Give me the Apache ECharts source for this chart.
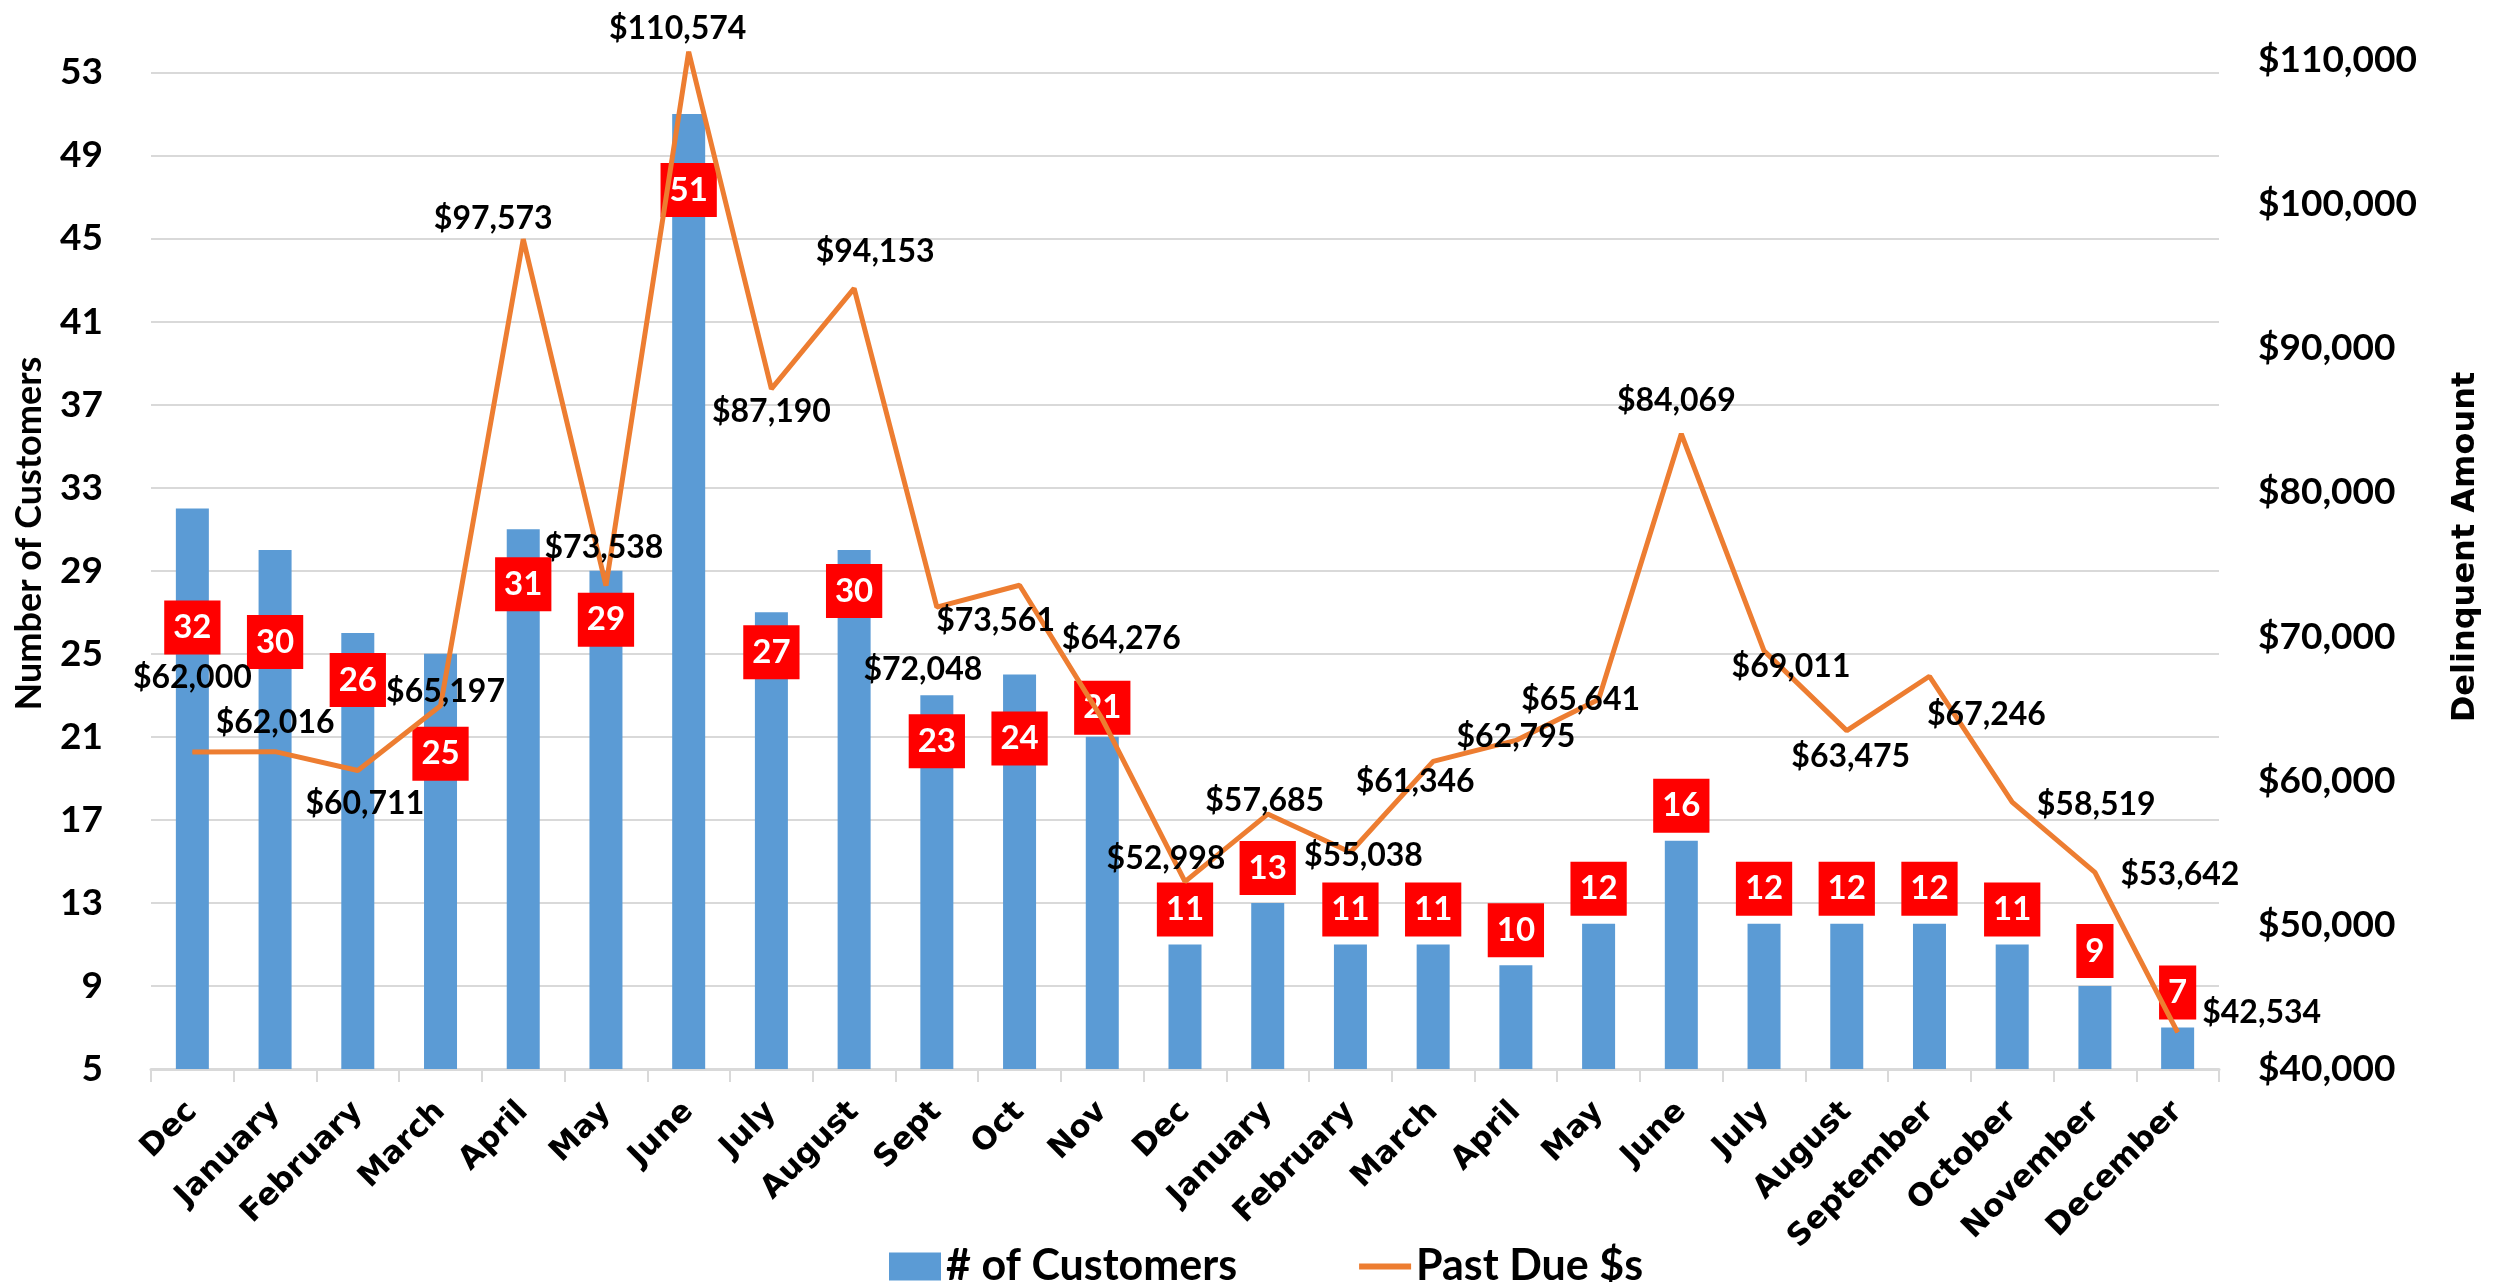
<!DOCTYPE html>
<html>
<head>
<meta charset="utf-8">
<script src="https://cdn.jsdelivr.net/npm/echarts@6/dist/echarts.min.js"></script>
<style>html,body{margin:0;padding:0;background:#fff}#c{width:2509px;height:1282px}</style>
</head>
<body>
<div id="c"></div>
<script>
const categories = ['Dec','January','February','March','April','May','June','July','August','Sept','Oct','Nov','Dec','January','February','March','April','May','June','July','August','September','October','November','December'];
const customers = [32,30,26,25,31,29,51,27,30,23,24,21,11,13,11,11,10,12,16,12,12,12,11,9,7];
const pastDue = [62000,62016,60711,65197,97573,73538,110574,87190,94153,72048,73561,64276,52998,57685,55038,61346,62795,65641,84069,69011,63475,67246,58519,53642,42534];
const leftTicks = {min: 5, max: 53.6, step: 4};
const rightTicks = {min: 40000, max: 110000, step: 10000};

// label placement tweaks (pixels), kept separate from the data
const barLabelDy = [154,127,82,135,90,84,111,75,76,81,99,6,0,0,0,0,0,0,0,0,0,0,0,0,0];
const lineLabelOffset = [[0,-74],[0,-29],[7,33],[5,-14],[-30,-20],[-2,-38],[-11,-23],[0,23],[21,-37],[-14,63],[-24,35],[19,-80],[-19,-23],[-3,-13],[13,3],[-18,20],[0,-4],[-18,0],[-5,-33],[27,16],[4,26],[57,38],[84,3],[85,2],[84,-20]];

const money = v => '$' + Math.round(v).toLocaleString('en-US');
const NUM = 'Lato, "Open Sans", sans-serif';

const chart = echarts.init(document.getElementById('c'));
chart.setOption({
  animation: false,
  backgroundColor: '#ffffff',
  grid: {left: 151, right: 290, top: 60, bottom: 213},
  legend: {
    left: 884, top: 1240,
    itemWidth: 52, itemHeight: 28, itemGap: 122,
    textStyle: {fontFamily: NUM, fontWeight: 'bold', fontSize: 43, color: '#000'},
    data: [
      {name: '# of Customers', icon: 'rect'},
      {name: 'Past Due $s', icon: 'path://M0,0H54V6H0Z', itemStyle: {color: '#ed7d31'}}
    ]
  },
  xAxis: {
    type: 'category', data: categories,
    axisLine: {lineStyle: {color: '#d9d9d9', width: 3}},
    axisTick: {show: true, length: 13, lineStyle: {color: '#d9d9d9', width: 2}},
    axisLabel: {interval: 0, rotate: 45, margin: 38, color: '#000', fontFamily: '"DejaVu Sans", sans-serif', fontWeight: 'bold', fontSize: 31}
  },
  yAxis: [{
    type: 'value', min: leftTicks.min, max: leftTicks.max, interval: leftTicks.step,
    name: 'Number of Customers', nameLocation: 'middle', nameRotate: 90, nameGap: 104,
    nameTextStyle: {fontFamily: NUM, fontWeight: 'bold', fontSize: 36, color: '#000', padding: [0,0,0,62]},
    axisLine: {show: false}, axisTick: {show: false},
    axisLabel: {showMaxLabel: false, margin: 48, color: '#000', fontFamily: NUM, fontWeight: 'bold', fontSize: 37},
    splitLine: {show: true, showMaxLine: false, lineStyle: {color: '#d9d9d9', width: 2}}
  }, {
    type: 'value', min: rightTicks.min, max: rightTicks.max, interval: rightTicks.step,
    name: 'Delinquent Amount', nameLocation: 'middle', nameRotate: 90, nameGap: 231,
    nameTextStyle: {fontFamily: '"DejaVu Sans", sans-serif', fontWeight: 'bold', fontSize: 32, color: '#000', padding: [0,0,0,35]},
    axisLine: {show: false}, axisTick: {show: false},
    axisLabel: {margin: 39, color: '#000', fontFamily: NUM, fontWeight: 'bold', fontSize: 37, formatter: money},
    splitLine: {show: false}
  }],
  series: [{
    name: '# of Customers', type: 'bar', yAxisIndex: 0, barWidth: 33,
    itemStyle: {color: '#5b9bd5'},
    data: customers.map((v, i) => ({value: v, label: {offset: [0, barLabelDy[i]]}})),
    label: {
      show: true, position: 'top', distance: 8,
      backgroundColor: '#ff0000', padding: [9, 9], color: '#fff',
      fontFamily: NUM, fontWeight: 'bold', fontSize: 33, lineHeight: 36
    },
    z: 2
  }, {
    name: 'Past Due $s', type: 'line', yAxisIndex: 1,
    symbol: 'none', clip: false,
    lineStyle: {color: '#ed7d31', width: 5},
    itemStyle: {color: '#ed7d31'},
    data: pastDue,
    z: 3
  }, {
    name: 'Past Due labels', type: 'scatter', yAxisIndex: 1, clip: false,
    symbolSize: 1, itemStyle: {color: '#ed7d31', opacity: 1},
    data: pastDue.map((v, i) => ({value: v, label: {offset: lineLabelOffset[i]}})),
    label: {
      show: true, position: 'inside', color: '#000', opacity: 1,
      fontFamily: NUM, fontWeight: 'bold', fontSize: 32, formatter: p => money(p.value)
    },
    z: 4
  }]
});
</script>
</body>
</html>
